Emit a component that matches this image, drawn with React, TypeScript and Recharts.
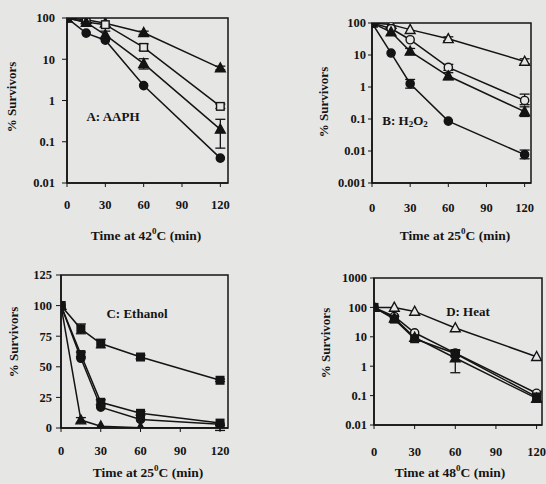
import React from 'react';
import { LineChart, Line, XAxis, YAxis, ErrorBar, ReferenceArea } from 'recharts';

const INK = '#141414';
const PAPER = '#e6e6e4';
const SERIF = "'Liberation Serif', 'Times New Roman', serif";

const times = [0, 15, 30, 60, 120];
const timeTicks = [0, 30, 60, 90, 120];

// A: AAPH (log)
const aaphTop = [100, 91, 75, 44, 6.1];
const aaphTopErr = [null, null, null, [4, 4], [0.6, 0.7]];
const aaphSquare = [100, 80, 69, 19.4, 0.72];
const aaphSquareErr = [null, null, null, [3, 4], [0.08, 0.1]];
const aaphTriangle = [100, 78, 39, 7.8, 0.2];
const aaphTriangleErr = [null, null, [8, 9], [2, 2.5], [0.13, 0.15]];
const aaphCircle = [100, 43, 29, 2.3, 0.04];
const aaphTicks = [0.01, 0.1, 1, 10, 100];

// B: H2O2 (log)
const h2o2OpenTri = [100, 89, 62, 32, 6.3];
const h2o2OpenTriErr = [null, null, null, [4, 5], [1, 1.3]];
const h2o2OpenCircle = [100, 67, 30, 4.1, 0.38];
const h2o2OpenCircleErr = [null, null, null, [0.8, 1], [0.1, 0.22]];
const h2o2Triangle = [100, 52, 13, 2.2, 0.17];
const h2o2TriangleErr = [null, [10, 12], [2.5, 3], [0.5, 0.6], [0.05, 0.07]];
const h2o2Circle = [100, 11.5, 1.27, 0.086, 0.0077];
const h2o2CircleErr = [null, null, [0.35, 0.45], null, [0.002, 0.003]];
const h2o2Ticks = [0.001, 0.01, 0.1, 1, 10, 100];

// C: Ethanol (linear)
const ethanolTop = [100, 81, 69, 58, 39];
const ethanolTopErr = [null, [4, 4], [3.5, 3.5], [1.5, 1.5], [1, 1]];
const ethanolSquare = [100, 60, 21, 12, 4];
const ethanolSquareErr = [null, [2, 2], [2, 2], [1.5, 1.5], null];
const ethanolCircle = [100, 57, 17, 7, 3];
const ethanolTriangle = [100, 6.5, 1.5, 0.3, 0];
const ethanolTriangleErr = [null, [2, 2], null, null, [2, 2]];
const ethanolTicks = [0, 25, 50, 75, 100, 125];

// D: Heat (log)
const heatOpenTri = [100, 100, 73, 20, 2.1];
const heatOpenCircle = [100, 49, 13.7, 2.8, 0.12];
const heatSquare = [100, 40, 8.6, 2.7, 0.09];
const heatSquareErr = [null, [8, 10], null, [0.6, 0.8], [0.03, 0.05]];
const heatTriangle = [100, 43, 9.5, 1.9, 0.08];
const heatTriangleErr = [null, null, null, [1.3, 1.6], null];
const heatTicks = [0.01, 0.1, 1, 10, 100, 1000];

type Shape = 'circle' | 'triangle' | 'square';
type Series = { values: number[]; err?: (number[] | null)[]; shape: Shape; filled: boolean };

const makeDot = (shape: Shape, filled: boolean) => (props: any) => {
  const { cx, cy, index } = props;
  if (cx == null || cy == null || isNaN(cy)) return <g key={index} />;
  const fill = filled ? INK : PAPER;
  if (shape === 'circle') {
    return <circle key={index} cx={cx} cy={cy} r={4.1} fill={fill} stroke={INK} strokeWidth={1.4} />;
  }
  if (shape === 'square') {
    return <rect key={index} x={cx - 3.8} y={cy - 3.8} width={7.6} height={7.6} fill={fill} stroke={INK} strokeWidth={1.4} />;
  }
  return (
    <polygon
      key={index}
      points={`${cx},${cy - 5.2} ${cx - 4.9},${cy + 3.8} ${cx + 4.9},${cy + 3.8}`}
      fill={fill}
      stroke={INK}
      strokeWidth={1.4}
    />
  );
};

type PanelProps = {
  left: number; top: number; width: number; height: number;
  x0: number; x1: number; y0: number; y1: number;
  xMax: number; log: boolean; yDomain: [number, number]; yTicks: number[];
  yTickSize: number; yTickGap: number; xTickGap: number;
  series: Series[];
};

const tickStyle = { fill: INK, fontSize: 12.5, fontWeight: 700, fontFamily: SERIF };

const Panel = (p: PanelProps) => {
  const rows = times.map((t, i) => {
    const row: any = { t };
    p.series.forEach((s, k) => {
      row['v' + k] = s.values[i];
      if (s.err && s.err[i]) row['e' + k] = s.err[i];
    });
    return row;
  });
  return (
    <div style={{ position: 'absolute', left: p.left, top: p.top }}>
      <LineChart
        width={p.width}
        height={p.height}
        data={rows}
        margin={{ top: p.y0 - p.top, right: p.left + p.width - p.x1, left: 0, bottom: 0 }}
      >
        <XAxis
          type="number"
          dataKey="t"
          domain={[0, p.xMax]}
          ticks={timeTicks}
          interval={0}
          allowDataOverflow
          height={p.top + p.height - p.y1}
          tick={tickStyle}
          tickSize={4}
          tickMargin={p.xTickGap - 4}
          axisLine={{ stroke: INK, strokeWidth: 1.5 }}
          tickLine={{ stroke: INK }}
        />
        <YAxis
          type="number"
          scale={p.log ? 'log' : 'linear'}
          domain={p.yDomain}
          ticks={p.yTicks}
          interval={0}
          allowDataOverflow
          width={p.x0 - p.left}
          tick={tickStyle}
          tickSize={p.yTickSize}
          tickMargin={p.yTickGap}
          axisLine={{ stroke: INK, strokeWidth: 1.5 }}
          tickLine={{ stroke: INK }}
        />
        <ReferenceArea
          x1={0}
          x2={p.xMax}
          y1={p.yDomain[0]}
          y2={p.yDomain[1]}
          fill="none"
          fillOpacity={0}
          stroke={INK}
          strokeWidth={1.5}
        />
        {p.series.map((s, k) => (
          <Line
            key={k}
            dataKey={'v' + k}
            stroke={INK}
            strokeWidth={1.5}
            dot={makeDot(s.shape, s.filled)}
            activeDot={false}
            isAnimationActive={false}
          >
            {s.err && <ErrorBar dataKey={'e' + k} width={5} stroke={INK} strokeWidth={1.3} direction="y" />}
          </Line>
        ))}
      </LineChart>
    </div>
  );
};

const label = { fill: INK, fontWeight: 700, fontFamily: SERIF } as const;

const XTitle = ({ x, y, temp }: { x: number; y: number; temp: string }) => (
  <text x={x} y={y} textAnchor="middle" dominantBaseline="middle" fontSize={13.5} {...label}>
    Time at {temp}
    <tspan fontSize={9} dy={-5}>0</tspan>
    <tspan dy={5}>C (min)</tspan>
  </text>
);

const YTitle = ({ x, y }: { x: number; y: number }) => (
  <text
    x={x}
    y={y}
    transform={`rotate(-90 ${x} ${y})`}
    textAnchor="middle"
    dominantBaseline="middle"
    fontSize={13}
    {...label}
  >
    % Survivors
  </text>
);

export default function App() {
  return (
    <div style={{ position: 'absolute', left: 0, top: 0, width: 546, height: 484, background: PAPER, overflow: 'hidden' }}>
      <Panel
        left={0} top={0} width={240} height={250}
        x0={67} x1={228} y0={18} y1={183}
        xMax={126} log yDomain={[0.01, 100]} yTicks={aaphTicks}
        yTickSize={5} yTickGap={7} xTickGap={17}
        series={[
          { values: aaphTop, err: aaphTopErr, shape: 'triangle', filled: true },
          { values: aaphSquare, err: aaphSquareErr, shape: 'square', filled: false },
          { values: aaphTriangle, err: aaphTriangleErr, shape: 'triangle', filled: true },
          { values: aaphCircle, shape: 'circle', filled: true },
        ]}
      />
      <Panel
        left={300} top={0} width={240} height={250}
        x0={372} x1={531} y0={23} y1={183}
        xMax={125} log yDomain={[0.001, 100]} yTicks={h2o2Ticks}
        yTickSize={4} yTickGap={2} xTickGap={20}
        series={[
          { values: h2o2OpenTri, err: h2o2OpenTriErr, shape: 'triangle', filled: false },
          { values: h2o2OpenCircle, err: h2o2OpenCircleErr, shape: 'circle', filled: false },
          { values: h2o2Triangle, err: h2o2TriangleErr, shape: 'triangle', filled: true },
          { values: h2o2Circle, err: h2o2CircleErr, shape: 'circle', filled: true },
        ]}
      />
      <Panel
        left={0} top={250} width={240} height={234}
        x0={61} x1={228} y0={275} y1={428}
        xMax={126} log={false} yDomain={[0, 125]} yTicks={ethanolTicks}
        yTickSize={5} yTickGap={4} xTickGap={18}
        series={[
          { values: ethanolTop, err: ethanolTopErr, shape: 'square', filled: true },
          { values: ethanolSquare, err: ethanolSquareErr, shape: 'square', filled: true },
          { values: ethanolCircle, shape: 'circle', filled: true },
          { values: ethanolTriangle, err: ethanolTriangleErr, shape: 'triangle', filled: true },
        ]}
      />
      <Panel
        left={305} top={250} width={241} height={234}
        x0={374} x1={542} y0={278} y1={425}
        xMax={124} log yDomain={[0.01, 1000]} yTicks={heatTicks}
        yTickSize={4} yTickGap={3} xTickGap={22}
        series={[
          { values: heatOpenTri, shape: 'triangle', filled: false },
          { values: heatOpenCircle, shape: 'circle', filled: false },
          { values: heatSquare, err: heatSquareErr, shape: 'square', filled: true },
          { values: heatTriangle, err: heatTriangleErr, shape: 'triangle', filled: true },
        ]}
      />
      <svg width={546} height={484} style={{ position: 'absolute', left: 0, top: 0, pointerEvents: 'none' }}>
        <XTitle x={146} y={237} temp="42" />
        <XTitle x={455} y={237} temp="25" />
        <XTitle x={148} y={474} temp="25" />
        <XTitle x={450} y={474} temp="48" />
        <YTitle x={13} y={97} />
        <YTitle x={325} y={102} />
        <YTitle x={15} y={342} />
        <YTitle x={327} y={343} />
        <text x={113} y={118} textAnchor="middle" dominantBaseline="middle" fontSize={13} {...label}>A: AAPH</text>
        <text x={405} y={122} textAnchor="middle" dominantBaseline="middle" fontSize={13} {...label}>
          B: H<tspan fontSize={9} dy={3}>2</tspan>
          <tspan dy={-3}>O</tspan>
          <tspan fontSize={9} dy={3}>2</tspan>
        </text>
        <text x={137} y={315} textAnchor="middle" dominantBaseline="middle" fontSize={13} {...label}>C: Ethanol</text>
        <text x={468} y={313} textAnchor="middle" dominantBaseline="middle" fontSize={13} {...label}>D: Heat</text>
      </svg>
    </div>
  );
}
